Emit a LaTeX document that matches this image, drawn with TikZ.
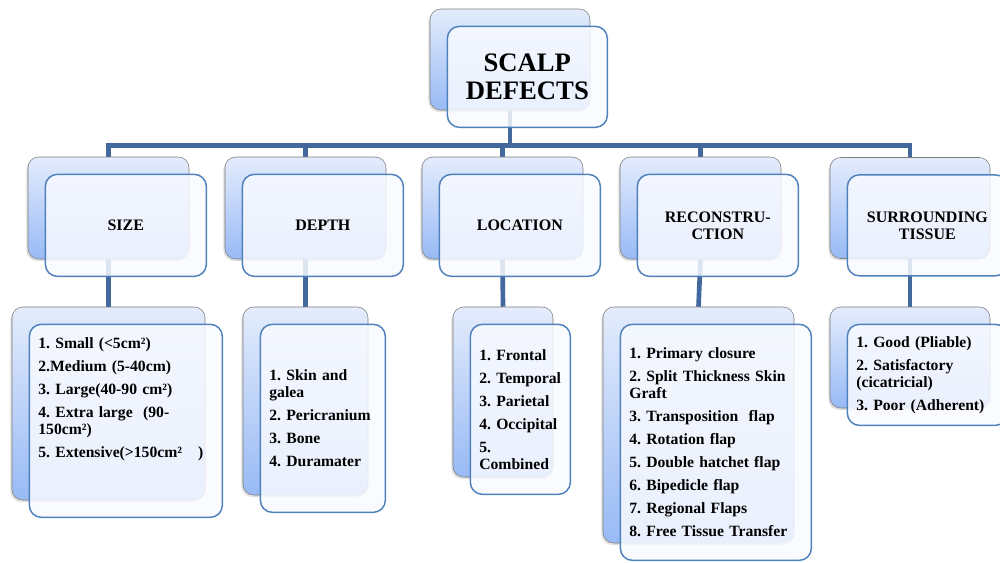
\documentclass[tikz,border=0pt]{standalone}
\usepackage{fontspec}
\setmainfont{Liberation Serif}
\usetikzlibrary{shadows,backgrounds}
\definecolor{cardtop}{RGB}{228,236,252}
\definecolor{cardbottom}{RGB}{152,186,245}
\definecolor{cardedge}{RGB}{125,125,125}
\definecolor{frontedge}{RGB}{79,129,189}
\definecolor{frontfill}{RGB}{248,250,255}
\definecolor{linkblue}{RGB}{66,104,158}
\newcommand{\listfont}{\fontsize{11.75}{12.75}\selectfont\bfseries\frenchspacing\hyphenpenalty 10000\relax}
\tikzset{
    back-card/.style = {draw=cardedge, thin, top color=cardtop, bottom color=cardbottom, rounded corners=8pt, drop shadow={shadow xshift=-1.2pt, shadow yshift=-1.5pt, opacity=0.25}},
    front-card/.style = {draw=frontedge, line width=1.1pt, fill=frontfill, fill opacity=0.85, text opacity=1, rounded corners=9pt, xshift=13pt, yshift=-13pt, align=center, font=\fontsize{12}{12.75}\selectfont\bfseries},
    card-size/.style 2 args = {minimum width=#1*0.75pt, minimum height=#2*0.75pt},
    list-text/.style = {align=left, text width=#1*0.75pt-13.5pt, inner xsep=6.75pt, font=\listfont},
    tree-line/.style = {draw=linkblue, line width=3.5pt},
}

\begin{document}
\begin{tikzpicture}[x=0.75pt, y=-0.75pt]
\useasboundingbox (0,0) rectangle (1000,562);

% root
\node[back-card, card-size={160}{101}] (defectsB) at (510,59.5) {};
\node[front-card, card-size={160}{101}, font=\fontsize{20}{21}\selectfont\bfseries] (defects) at (defectsB) {SCALP\\DEFECTS};

% first level
\node[back-card, card-size={161}{102}] (sizeB) at (108.5,208) {};
\node[front-card, card-size={161}{102}] (size) at (sizeB) {SIZE};
\node[back-card, card-size={161}{102}] (depthB) at (305.5,208) {};
\node[front-card, card-size={161}{102}] (depth) at (depthB) {DEPTH};
\node[back-card, card-size={161}{102}] (locB) at (502.5,208) {};
\node[front-card, card-size={161}{102}] (loc) at (locB) {LOCATION};
\node[back-card, card-size={161}{102}] (reconB) at (700.5,208) {};
\node[front-card, card-size={161}{102}] (recon) at (reconB) {RECONSTRU-\\CTION};
\node[back-card, card-size={160}{101}] (surrB) at (910,208) {};
\node[front-card, card-size={160}{101}] (surr) at (surrB) {SURROUNDING\\TISSUE};

% second level
\node[back-card, card-size={193}{193}] (sizeListB) at (108.5,403.5) {};
\node[front-card, card-size={193}{193}, list-text=193] (sizeList) at (sizeListB) {1. Small (<5cm²)\\[4.5pt]
    2.Medium (5-40cm)\\[4.5pt]
    3. Large(40-90 cm²)\\[4.5pt]
    4. Extra large\ \ (90-\\150cm²)\\[4.5pt]
    5. Extensive(>150cm²\hspace{12pt})\\[21.75pt]\mbox{}};
\node[back-card, card-size={125}{188}] (depthListB) at (305.5,401) {};
\node[front-card, card-size={125}{188}, list-text=125] (depthList) at (depthListB) {1. Skin and\\galea\\[4.5pt]
    2. Pericranium\\[4.5pt]
    3. Bone\\[4.5pt]
    4. Duramater};
\node[back-card, card-size={100}{170}] (locListB) at (503,392) {};
\node[front-card, card-size={100}{170}, list-text=100] (locList) at (locListB) {1. Frontal\\[4.5pt]
    2. Temporal\\[4.5pt]
    3. Parietal\\[4.5pt]
    4. Occipital\\[4.5pt]
    5.\\Combined};
\node[back-card, card-size={191}{236}] (reconListB) at (698.5,425) {};
\node[front-card, card-size={191}{236}, list-text=191] (reconList) at (reconListB) {1. Primary closure\\[4.5pt]
    2. Split Thickness Skin\\Graft\\[4.5pt]
    3. Transposition\ \ flap\\[4.5pt]
    4. Rotation flap\\[4.5pt]
    5. Double hatchet flap\\[4.5pt]
    6. Bipedicle flap\\[4.5pt]
    7. Regional Flaps\\[4.5pt]
    8. Free Tissue Transfer};
\node[back-card, card-size={160}{101}] (surrListB) at (910,357.5) {};
\node[front-card, card-size={160}{101}, list-text=160] (surrList) at (surrListB) {1. Good (Pliable)\\[4.5pt]
    2. Satisfactory\\(cicatricial)\\[4.5pt]
    3. Poor (Adherent)};

% connectors behind the cards
\begin{scope}[on background layer]
\draw[tree-line] (defectsB.south) -- ++(0,35) coordinate (bus);
\foreach \n in {sizeB,depthB,locB,reconB,surrB}
    \draw[tree-line] (bus) -| (\n.north);
\draw[tree-line] (sizeB.south) -- (sizeListB.north);
\draw[tree-line] (depthB.south) -- (depthListB.north);
\draw[tree-line] (locB.south) -- (locListB.north);
\draw[tree-line] (reconB.south) -- (reconListB.north);
\draw[tree-line] (surrB.south) -- (surrListB.north);
\end{scope}
\end{tikzpicture}
\end{document}
